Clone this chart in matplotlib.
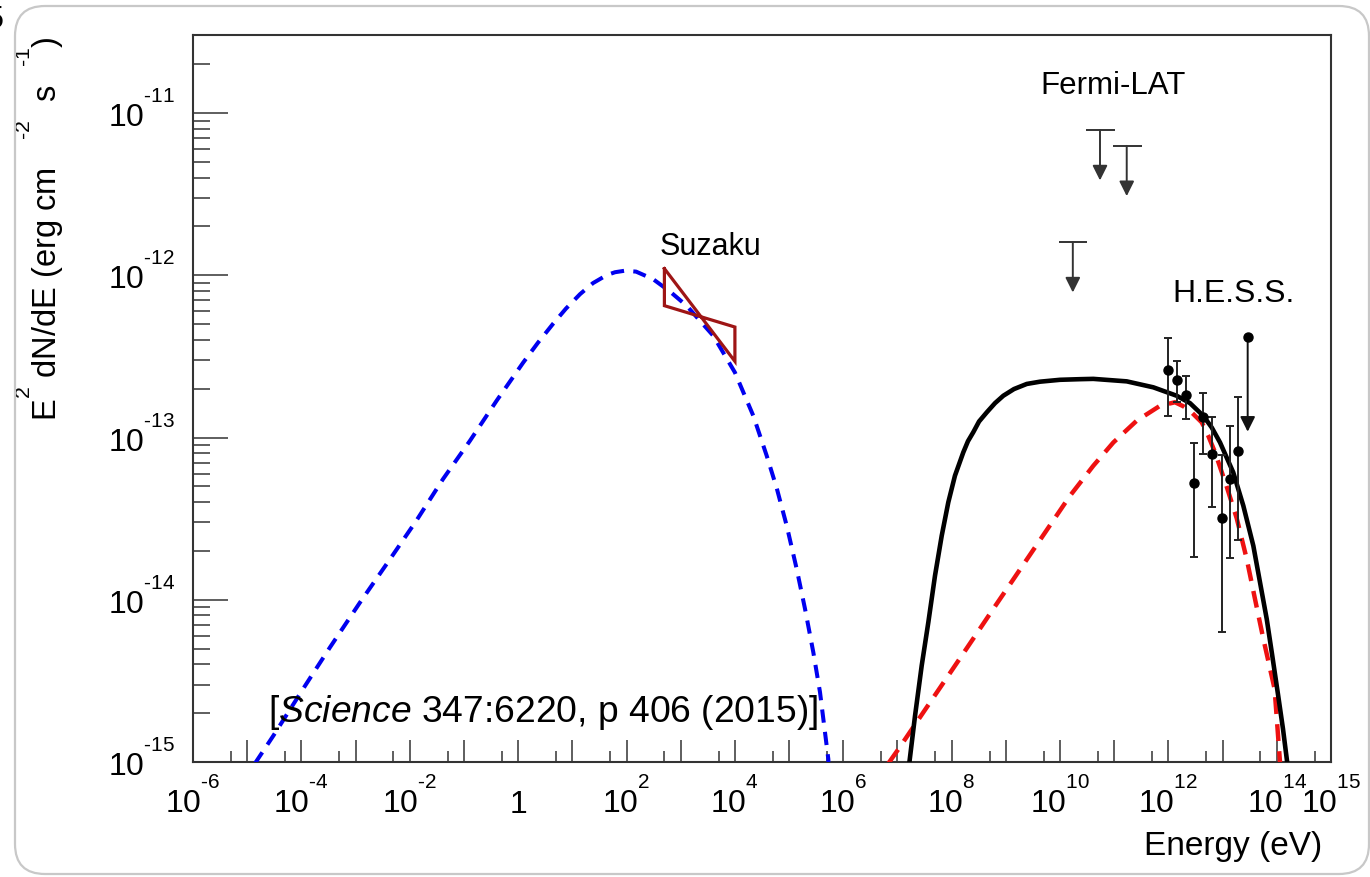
import matplotlib
matplotlib.use("Agg")
import matplotlib.pyplot as plt
from matplotlib.patches import FancyBboxPatch
from matplotlib.transforms import ScaledTranslation, IdentityTransform
from matplotlib.ticker import FixedLocator, NullFormatter

# ROOT-like exponents: smaller and raised higher than matplotlib's default
try:
    import matplotlib._mathtext as _mt
    _mt.SHRINK_FACTOR = 0.65
    _mt.FontConstantsBase.sup1 = 1.4
except Exception:
    pass

plt.rcParams['font.family'] = ['Liberation Sans', 'DejaVu Sans']
plt.rcParams['mathtext.fontset'] = 'custom'
plt.rcParams['mathtext.rm'] = 'Liberation Sans'
plt.rcParams['mathtext.it'] = 'Liberation Sans:italic'
plt.rcParams['mathtext.bf'] = 'Liberation Sans:bold'
plt.rcParams['mathtext.default'] = 'regular'

# ---------------- data ----------------
# synchrotron model (blue dashed)
sync_E = [1.39e-5, 3.03e-5, 1.17e-4, 3.37e-4, 1.21e-3, 4.32e-3, 1.32e-2, 4.11e-2,
          0.129, 0.402, 1.24, 2.33, 4.46, 7.64, 13.9, 24.0, 43.1, 61.4, 93.8, 150.0,
          308.0, 635.0, 1.29e3, 3.99e3, 1.0e4, 2.19e4, 3.86e4, 5.90e4, 9.04e4, 1.38e5,
          1.97e5, 2.80e5, 3.72e5, 5.30e5, 5.6e5]
sync_F = [9.8e-16, 1.45e-15, 2.95e-15, 5.09e-15, 9.64e-15, 1.78e-14, 3.07e-14, 5.55e-14,
          9.55e-14, 1.69e-13, 2.90e-13, 3.85e-13, 5.05e-13, 6.24e-13, 7.66e-13, 8.95e-13,
          1.003e-12, 1.045e-12, 1.068e-12, 1.054e-12, 9.48e-13, 7.94e-13, 6.49e-13,
          4.24e-13, 2.52e-13, 1.36e-13, 7.73e-14, 4.89e-14, 2.86e-14, 1.55e-14, 8.77e-15,
          4.74e-15, 2.69e-15, 1.04e-15, 5.0e-16]

# total gamma-ray model (black solid)
total_E = [1.65e7, 2.11e7, 2.80e7, 3.71e7, 4.93e7, 6.55e7, 8.67e7, 1.15e8, 1.64e8,
           2.00e8, 2.51e8, 3.20e8, 4.44e8, 6.31e8, 8.97e8, 1.41e9, 2.43e9, 4.27e9,
           1.0e10, 2.33e10, 4.11e10, 1.70e11, 5.26e11, 1.42e12, 2.50e12, 4.41e12,
           6.30e12, 8.95e12, 1.57e13, 2.41e13, 3.69e13, 4.90e13, 6.52e13, 8.15e13,
           1.05e14, 1.30e14, 1.57e14, 1.68e14]
total_F = [9.8e-16, 1.93e-15, 3.93e-15, 7.26e-15, 1.41e-14, 2.48e-14, 3.99e-14, 5.82e-14,
           8.11e-14, 9.5e-14, 1.08e-13, 1.256e-13, 1.43e-13, 1.63e-13, 1.81e-13, 1.99e-13,
           2.14e-13, 2.21e-13, 2.27e-13, 2.29e-13, 2.30e-13, 2.22e-13, 2.04e-13, 1.81e-13,
           1.63e-13, 1.36e-13, 1.153e-13, 9.33e-14, 6.10e-14, 3.80e-14, 2.15e-14, 1.28e-14,
           7.60e-15, 4.64e-15, 2.62e-15, 1.60e-15, 9.7e-16, 7.0e-16]

# inverse-Compton component (red dashed)
ic_E = [6.78e6, 1.04e7, 2.61e7, 6.10e7, 1.24e8, 2.51e8, 5.86e8, 1.19e9, 2.43e9,
        6.53e9, 1.53e10, 4.11e10, 9.64e10, 2.60e11, 7.00e11, 1.32e12, 1.88e12,
        2.73e12, 4.12e12, 5.37e12, 7.24e12, 1.19e13, 1.82e13, 2.79e13, 3.96e13,
        5.65e13, 9.10e13, 1.15e14]
ic_F = [9.8e-16, 1.20e-15, 1.89e-15, 2.87e-15, 4.07e-15, 5.77e-15, 8.79e-15, 1.245e-14,
        1.77e-14, 2.88e-14, 4.38e-14, 6.70e-14, 9.33e-14, 1.27e-13, 1.57e-13, 1.65e-13,
        1.56e-13, 1.42e-13, 1.24e-13, 1.035e-13, 8.11e-14, 4.98e-14, 3.18e-14, 1.78e-14,
        1.01e-14, 5.73e-15, 2.82e-15, 9.8e-16]

# Suzaku butterfly (0.5-10 keV)
suzaku_E = [5.0e2, 1.0e4]
suzaku_F_steep = [1.10e-12, 2.95e-13]
suzaku_F_flat = [6.5e-13, 4.8e-13]

# Fermi-LAT upper limits
fermi_E = [1.72e10, 5.46e10, 1.70e11]
fermi_Elo = [9.7e9, 3.0e10, 9.6e10]
fermi_Ehi = [3.2e10, 1.03e11, 3.2e11]
fermi_UL = [1.60e-12, 7.85e-12, 6.28e-12]

# H.E.S.S. spectral points
hess_E = [1.0e12, 1.42e12, 2.07e12, 2.96e12, 4.41e12, 6.30e12, 9.62e12, 1.37e13, 1.95e13]
hess_F = [2.62e-13, 2.26e-13, 1.83e-13, 5.21e-14, 1.33e-13, 7.91e-14, 3.19e-14, 5.55e-14, 8.22e-14]
hess_lo = [1.36e-13, 1.65e-13, 1.30e-13, 1.83e-14, 7.91e-14, 3.72e-14, 6.30e-15, 1.80e-14, 2.34e-14]
hess_hi = [4.08e-13, 2.95e-13, 2.38e-13, 9.20e-14, 1.87e-13, 1.33e-13, 7.80e-14, 1.17e-13, 1.78e-13]
hess_ul_E = [2.90e13]
hess_ul_F = [4.18e-13]

# tick labels
x_label_decades = [-6, -4, -2, 0, 2, 4, 6, 8, 10, 12, 14, 15]
y_label_decades = [-15, -14, -13, -12, -11]
HY = '\u2010'  # short hyphen used by ROOT in exponents

# ---------------- figure ----------------
W, H = 1370, 878
fig = plt.figure(figsize=(W / 100, H / 100), dpi=100)
ax = fig.add_axes([193 / W, 1 - 763 / H, 1138 / W, 727 / H])

ax.set_xscale('log')
ax.set_yscale('log')
ax.set_xlim(1e-6, 1e15)
ax.set_ylim(1e-15, 3.03e-11)

ax.plot(sync_E, sync_F, color='#0000f0', lw=2.9, linestyle=(0, (3.3, 2.3)),
        dash_capstyle='butt', solid_joinstyle='round', zorder=3)
ax.plot(ic_E, ic_F, color='#ee1111', lw=3.2, linestyle=(0, (3.8, 2.3)),
        dash_capstyle='butt', zorder=3)
ax.plot(total_E, total_F, color='black', lw=3.3, solid_joinstyle='round', zorder=4)

# Suzaku butterfly
bx = [suzaku_E[0], suzaku_E[1], suzaku_E[1], suzaku_E[0], suzaku_E[0]]
by = [suzaku_F_steep[0], suzaku_F_steep[1], suzaku_F_flat[1], suzaku_F_flat[0], suzaku_F_steep[0]]
ax.plot(bx, by, color='#9e1515', lw=2.3, solid_joinstyle='miter', zorder=5)

# Fermi-LAT upper limits
ul_color = '#333333'
arrow_factor = 0.49
ax.hlines(fermi_UL, fermi_Elo, fermi_Ehi, color=ul_color, lw=1.4, zorder=5)
for e, f in zip(fermi_E, fermi_UL):
    ax.annotate('', xy=(e, f * arrow_factor), xytext=(e, f),
                arrowprops=dict(arrowstyle='-|>,head_length=0.9,head_width=0.45',
                                color=ul_color, lw=1.4, shrinkA=0, shrinkB=0,
                                mutation_scale=10))

# H.E.S.S. points
yerr = [[f - lo for f, lo in zip(hess_F, hess_lo)], [hi - f for f, hi in zip(hess_F, hess_hi)]]
ax.errorbar(hess_E, hess_F, yerr=yerr, fmt='o', color='black', ms=6.5,
            ecolor='#222222', elinewidth=1.4, capsize=3, capthick=1.4, zorder=6)
ax.plot(hess_ul_E, hess_ul_F, 'o', color='black', ms=6.5, zorder=6)
for e, f in zip(hess_ul_E, hess_ul_F):
    ax.annotate('', xy=(e, f * 0.26), xytext=(e, f),
                arrowprops=dict(arrowstyle='-|>,head_length=0.9,head_width=0.45',
                                color='#111111', lw=1.4, shrinkA=0, shrinkB=0,
                                mutation_scale=10))

# ---------------- axes styling ----------------
for sp in ax.spines.values():
    sp.set_color('#333333')
    sp.set_linewidth(1.5)

xt = [10.0 ** k for k in range(-6, 16)]
xl = []
for k in range(-6, 16):
    if k in x_label_decades:
        xl.append('1' if k == 0 else (r'$10^{%s}$' % str(k).replace('-', HY)))
    else:
        xl.append('')
ax.set_xticks(xt, xl, va='baseline')
ax.xaxis.set_minor_locator(FixedLocator([5 * 10.0 ** k for k in range(-6, 15)]))
ax.xaxis.set_minor_formatter(NullFormatter())

yt = [10.0 ** k for k in y_label_decades]
ax.set_yticks(yt, [r'$10^{%s}$' % str(k).replace('-', HY) for k in y_label_decades],
              va='baseline')
ymin = [m * 10.0 ** k for k in range(-15, -10) for m in range(2, 10) if m * 10.0 ** k < 3.0e-11]
ax.yaxis.set_minor_locator(FixedLocator(ymin))
ax.yaxis.set_minor_formatter(NullFormatter())

ax.tick_params(axis='x', which='major', direction='in', length=15.8, width=1.1,
               color='#333333', pad=36, labelsize=23)
ax.tick_params(axis='x', which='minor', direction='in', length=7.9, width=1.1, color='#333333')
ax.tick_params(axis='y', which='major', direction='in', length=25, width=1.1,
               color='#333333', pad=13, labelsize=23)
ax.tick_params(axis='y', which='minor', direction='in', length=12.2, width=1.1, color='#333333')

shift = ScaledTranslation(0, -0.13, fig.dpi_scale_trans)
for lab in ax.get_yticklabels():
    lab.set_transform(lab.get_transform() + shift)

ax.set_ylabel(r'E$^{2}$ dN/dE (erg cm   $^{%s2}$  s  $^{%s1}$)' % (HY, HY), fontsize=23.5,
              loc='top', va='center')
ax.yaxis.set_label_coords(-0.1344, 1.0)
ax.set_xlabel('Energy (eV)', fontsize=24, ha='right', va='baseline')
ax.xaxis.set_label_coords(0.992, -0.127)

# annotations
ax.text(0.4104, 0.6988, 'Suzaku', fontsize=22, transform=ax.transAxes, va='baseline')
ax.text(0.7443, 0.9209, 'Fermi-LAT', fontsize=22.5, transform=ax.transAxes, va='baseline')
ax.text(0.8603, 0.6341, 'H.E.S.S.', fontsize=23, transform=ax.transAxes, va='baseline')
ax.text(0.0659, 0.0564, r'[$\mathit{Science}$ 347:6220, p 406 (2015)]', fontsize=26.8,
        transform=ax.transAxes, va='baseline')

# rounded frame around the slide-like figure
frame = FancyBboxPatch((15, 3), 1354, 868, boxstyle='round,pad=0,rounding_size=30',
                       transform=IdentityTransform(), fill=False, ec='#c8c8c8', lw=1.6)
fig.patches.append(frame)
fig.text(-13 / W, 1 - 28 / H, '5', fontsize=22, va='baseline', ha='left')

fig.savefig('out.png', dpi=100)
